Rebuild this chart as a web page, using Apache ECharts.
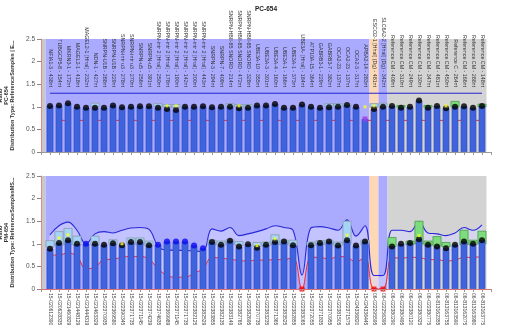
<!DOCTYPE html>
<html><head><meta charset="utf-8">
<script src="https://cdn.jsdelivr.net/npm/echarts@6/dist/echarts.min.js"></script>
<style>html,body{margin:0;padding:0;background:#fff}#c{width:528px;height:326px}</style>
</head><body><div id="c"></div>
<script>
// ---------- data ----------
const markers = [
 'NFIA1-3 - 438nt','TUBGCP5-8 - 154nt','MKRN3-1 - 172nt','MAGEL2-1 - 418nt','MAGEL2-1 [HhaI] - 232nt',
 'NDN-1 - 427nt','SNRPN-U1B - 288nt','SNRPN-U1B - 229nt','SNRPN-intr u3 - 278nt','SNRPN-intr u3 - 270nt',
 'SNRPN-u5 - 256nt','SNRPN-u5 - 391nt','SNRPN-intr 2 [HhaI] - 250nt','SNRPN-intr 2 [HhaI] - 178nt','SNRPN-intr 2 [HhaI] - 190nt',
 'SNRPN-intr 2 [HhaI] - 142nt','SNRPN-intr 2 [HhaI] - 200nt','SNRPN-intr 2 [HhaI] - 443nt','SNRPN-3 - 294nt','SNRPN-7 - 409nt',
 'SNRPN-HBII-85 SNORD - 214nt','SNRPN-HBII-85 SNORD - 472nt','SNRPN-HBII-85 SNORD - 328nt','UBE3A-10 - 355nt','UBE3A-3 - 301nt',
 'UBE3A-4 - 160nt','UBE3A-1 - 166nt','UBE3A-1 - 373nt','UBE3A- [HhaI] - 184nt','ATP10A-15 - 364nt',
 'GABRB3-1 - 229nt','GABRB3-7 - 382nt','OCA2-23 - 137nt','OCA2-23 - 137nt','OCA2-3 - 317nt',
 'APBA2-14 - 283nt','ESCO2-1 [HhaI] (Dg) - 481nt','SLC6A2-2 [HhaI] (Dg) - 342nt','Reference CM - 409nt','Reference CM - 310nt',
 'Reference CM - 249nt','Reference CM - 130nt','Reference CM - 347nt','Reference CM - 481nt','Reference CM - 450nt',
 'Reference C - 264nt','Reference CM - 166nt','Reference CM - 288nt','Reference CM - 148nt'
];
const samples = [
 '15-020612390','15-020628335','15-021460829','15-021448129','15-021444319','15-021463329','15-022370935','15-022369580','15-022390345','15-022371735',
 '15-022371145','15-022374239','15-022374635','15-022369989','15-022371145','15-022371735','15-022382125','15-022382529','15-022383855','15-022382135',
 '15-022383149','15-022382765','15-022382695','15-022370735','15-022383235','15-022371365','15-022383525','15-022382855','15-022383065','15-022372055',
 '15-022371835','15-022370955','15-022381505','15-022371575','15-024336820','15-024336445','06-022295595','06-022256395','06-022380290','06-022380495',
 '06-022380120','06-022380325','06-022380775','06-813162355','06-813163755','06-813163590','06-813162075','06-813163980','06-813163775'
];
const regionType = ['s','s','s','s','s','s','s','s','s','s','s','s','s','s','s','s','s','s','s','s',
 's','s','s','s','s','s','s','s','s','s','s','s','s','s','s','s','d','s','r','r','r','r','r','r','r','r','r','r','r'];

// top panel (PC-654)
const topRatio = [1.02,1.03,1.08,1.00,0.98,0.98,0.98,1.03,0.99,1.00,1.01,1.01,0.98,0.95,0.93,1.00,1.00,1.01,0.99,1.00,
 1.00,0.97,0.98,1.03,1.03,1.06,0.98,0.98,1.05,1.00,0.98,0.99,1.00,1.04,1.00,0.73,0.95,1.00,1.02,0.98,1.00,1.14,0.98,1.02,0.97,1.00,1.01,0.98,1.02];
const topDotType = ['k','k','k','k','k','k','k','k','k','k','k','k','k','k','k','k','k','k','k','k',
 'k','k','k','k','k','k','k','k','k','k','k','k','k','k','k','p','k','k','k','k','k','k','k','k','k','k','k','k','k'];
const topBoxLow  = [null,null,null,null,null,1.00,null,null,null,null,null,null,1.00,0.99,0.99,null,null,null,null,null,
 1.00,0.99,0.99,null,null,null,null,null,null,null,null,1.00,1.00,1.00,null,null,0.99,1.00,null,0.99,null,null,0.99,null,null,1.00,null,null,1.00];
const topBoxHigh = [null,null,null,null,null,1.08,null,null,null,null,null,null,1.07,1.05,1.05,null,null,null,null,null,
 1.07,1.05,1.05,null,null,null,null,null,null,null,null,1.07,1.07,1.06,null,null,1.07,1.08,null,1.03,null,null,1.03,null,null,1.12,null,null,1.06];
const topYellow = [null,null,null,null,null,null,null,null,null,null,null,null,null,1.02,1.02,null,null,null,null,null,
 null,1.02,null,null,null,null,null,null,null,null,null,null,null,null,null,1.00,1.02,null,null,null,null,null,null,null,1.02,null,null,null,null];
const topUpperLimit = 1.3;
const topLowerLimit = 0.7;

// bottom panel (PM-654)
const botRatio = [0.89,1.02,1.08,1.00,1.00,1.00,0.98,1.01,0.97,1.04,1.04,0.97,0.98,1.05,1.05,1.05,0.96,0.90,1.04,0.98,
 1.07,0.94,0.99,0.91,0.98,1.04,1.05,0.97,0,0.97,1.02,1.05,0.96,1.08,0.96,1.05,0,0,0.94,1.00,1.02,1.10,0.98,0.94,0.90,0.98,1.05,1.00,1.08];
const botDotType = ['k','k','k','k','b','k','k','k','k','k','k','k','b','b','b','b','b','b','k','k',
 'k','k','k','k','k','k','k','k','x','k','k','k','k','k','k','k','x','x','k','k','k','k','k','k','k','k','k','k','k'];
const botBoxLow  = [0.93,0.97,0.98,0.97,null,0.97,null,0.98,null,0.98,0.98,0.95,null,null,null,null,null,null,0.98,0.97,
 0.99,0.96,null,0.93,0.96,0.98,0.98,0.96,null,0.96,0.98,0.98,0.95,1.00,null,0.98,null,null,0.94,null,0.98,1.00,0.97,0.95,0.93,null,0.98,0.98,1.00];
const botBoxHigh = [1.07,1.27,1.34,1.17,null,1.17,null,1.09,null,1.13,1.13,1.06,null,null,null,null,null,null,1.08,1.06,
 1.09,1.05,null,1.03,1.04,1.20,1.08,1.08,null,1.04,1.07,1.08,1.04,1.50,null,1.08,null,null,1.14,null,1.06,1.50,1.06,1.16,1.03,null,1.30,1.08,1.28];
const botYellow = [null,1.13,1.20,null,null,null,null,null,1.00,null,null,null,null,null,null,null,null,null,null,null,
 null,null,null,0.96,null,1.11,null,null,null,null,null,null,null,1.19,null,null,null,null,null,null,null,1.18,null,null,null,null,null,null,null];
const botUpper = [1.20,1.40,1.48,1.30,1.00,1.22,1.27,1.24,1.30,1.35,1.36,1.32,0.95,0.86,0.86,0.85,0.84,0.83,1.33,1.28,
 1.36,1.18,1.22,1.27,1.33,1.40,1.36,1.30,0.31,1.35,1.38,1.35,1.30,1.53,1.17,1.40,0.30,0.30,1.30,1.30,1.27,1.49,1.24,1.22,1.18,1.24,1.36,1.30,1.42];
const botLower = [0.75,0.75,0.80,0.72,0.45,0.48,0.65,0.66,0.70,0.72,0.72,0.66,0.45,0.30,0.26,0.26,0.35,0.45,0.70,0.68,
 0.66,0.63,0.62,0.64,0.64,0.65,0.65,0.70,0.00,0.70,0.70,0.66,0.72,0.70,0.60,0.70,0.00,0.00,0.70,0.68,0.70,0.70,0.65,0.65,0.62,0.64,0.70,0.70,0.72];

// ---------- styles ----------
const regionColor = {s:'#aaaaff', d:'#fcd8b6', r:'#d3d3d3'};
const boxColor = {s:'#a6d4f6', d:'#a6d4f6', r:'#7ddc7d'};
const boxBorder = {s:'#8a9aaa', d:'#8a9aaa', r:'#4a9a4a'};
const FONT = 'Liberation Sans, Arial, sans-serif';

function bgAreas(){
  const out = [[{xAxis:-1, itemStyle:{color:'#c8c8c8'}},{xAxis:-0.5}]];
  let s = 0;
  for (let i=1;i<=regionType.length;i++){
    if (i===regionType.length || regionType[i]!==regionType[s]){
      out.push([{xAxis:s-0.5, itemStyle:{color:regionColor[regionType[s]]}},{xAxis:i-0.5}]);
      s = i;
    }
  }
  return out;
}
function boxData(lo,hi){
  const d=[];
  lo.forEach((v,i)=>{ if(v!=null) d.push([i,v,hi[i]]); });
  return d;
}
function boxRender(params, api){
  const x=api.value(0), lo=api.value(1), hi=api.value(2);
  const t=regionType[x];
  const a=api.coord([x,hi]), b=api.coord([x,lo]);
  const w=api.size([1,0])[0]*0.9;
  return {type:'rect', shape:{x:a[0]-w/2, y:a[1], width:w, height:b[1]-a[1]},
    style:{fill:boxColor[t], stroke:boxBorder[t], lineWidth:0.8}};
}
function bandRender(params, api){
  const up = botUpper.map((v,i)=>api.coord([i,v]));
  const lo = botLower.map((v,i)=>api.coord([i,v])).reverse();
  return {type:'polygon', shape:{points:up.concat(lo), smooth:0.35},
    style:{fill:'rgba(215,215,255,0.55)'}};
}
function pts(arr, filt){ const d=[]; arr.forEach((v,i)=>{ if(v!=null && (!filt||filt(i))) d.push([i,v]); }); return d; }

const yAxisBase = (gi, name) => ({
  gridIndex:gi, type:'value', min:0, max:2.5, interval:0.5, z:20,
  name:name, nameLocation:'middle', nameGap:20,
  nameTextStyle:{fontSize:5.5, fontWeight:'bold', color:'#333', lineHeight:6, fontFamily:FONT},
  axisLine:{show:true, onZero:false, lineStyle:{color:'#e08a8a', width:1}},
  axisTick:{show:true, length:4, lineStyle:{color:'#888'}},
  axisLabel:{fontSize:6.5, color:'#555', margin:6, fontFamily:FONT},
  splitLine:{show:false}
});

const option = {
  animation:false,
  backgroundColor:'#ffffff',
  title:{text:'PC-654', left:255, top:6, padding:0, textStyle:{fontSize:6.5, fontWeight:'bold', color:'#222', fontFamily:FONT}},
  grid:[
    {left:41, right:37, top:39, height:113, containLabel:false, outerBoundsMode:'none'},
    {left:41, right:37, top:176, height:113, containLabel:false, outerBoundsMode:'none'}
  ],
  xAxis:[
    {gridIndex:0, type:'value', min:-1, max:49, interval:1, position:'bottom', z:20,
     axisLine:{show:true, onZero:false, lineStyle:{color:'#999'}}, axisTick:{show:true, length:3, lineStyle:{color:'#999'}},
     axisLabel:{show:false}, splitLine:{show:false}},
    {gridIndex:0, type:'value', min:-1, max:49, interval:1, position:'top', offset:-50, z:20,
     axisLine:{show:false, onZero:false}, axisTick:{show:false}, splitLine:{show:false},
     axisLabel:{show:true, rotate:90, margin:2, fontSize:5.3, color:'#333', fontFamily:FONT,
       formatter:v=>markers[v]||''}},
    {gridIndex:1, type:'value', min:-1, max:49, interval:1, position:'bottom', z:20,
     axisLine:{show:true, onZero:false, lineStyle:{color:'#e07070'}}, axisTick:{show:true, length:3, lineStyle:{color:'#999'}},
     splitLine:{show:false},
     axisLabel:{show:true, rotate:-90, margin:4, fontSize:5, color:'#444', fontFamily:FONT,
       formatter:v=>samples[v]||''}}
  ],
  yAxis:[
    yAxisBase(0,'Ratio\nPC-654\nDistribution Type: ReferenceSamples | E...'),
    yAxisBase(1,'Ratio\nPM-654\nDistribution Type: ReferenceSamplesMS...')
  ],
  series:[
    // ----- top panel -----
    {type:'scatter', xAxisIndex:0, yAxisIndex:0, data:[], z:0, silent:true,
     markArea:{silent:true, data:bgAreas()}},
    {type:'line', xAxisIndex:0, yAxisIndex:0, data:markers.map((m,i)=>[i,topLowerLimit]), showSymbol:false, z:1,
     lineStyle:{color:'#ee3030', width:1, type:[3,3]}},
    {type:'custom', xAxisIndex:0, yAxisIndex:0, data:boxData(topBoxLow,topBoxHigh), renderItem:boxRender, z:2},
    {type:'bar', xAxisIndex:0, yAxisIndex:0, data:topRatio.map((v,i)=>[i,v]), barWidth:6.6, z:3,
     itemStyle:{color:'#3f63dd', borderColor:'#2b45b5', borderWidth:0.5}},
    {type:'line', xAxisIndex:0, yAxisIndex:0, data:markers.map((m,i)=>[i,topUpperLimit]), showSymbol:false, z:4,
     lineStyle:{color:'#2424cc', width:1}},
    {type:'scatter', xAxisIndex:0, yAxisIndex:0, data:pts(topRatio,i=>topDotType[i]==='k'), symbolSize:6, z:5,
     itemStyle:{color:'#000'}},
    {type:'scatter', xAxisIndex:0, yAxisIndex:0, data:pts(topRatio,i=>topDotType[i]==='p'), symbol:'rect', symbolSize:5, z:5,
     itemStyle:{color:'#a03be8'}},
    {type:'scatter', xAxisIndex:0, yAxisIndex:0, data:pts(topYellow), symbol:'rect', symbolSize:3, z:6,
     itemStyle:{color:'#ffff20'}},
    // ----- bottom panel -----
    {type:'scatter', xAxisIndex:2, yAxisIndex:1, data:[], z:0, silent:true,
     markArea:{silent:true, data:bgAreas()}},
    {type:'custom', xAxisIndex:2, yAxisIndex:1, data:[[0,0]], renderItem:bandRender, z:1, silent:true},
    {type:'line', xAxisIndex:2, yAxisIndex:1, data:botLower.map((v,i)=>[i,v]), smooth:0.4, showSymbol:false, z:2,
     lineStyle:{color:'#ff2020', width:1}},
    {type:'line', xAxisIndex:2, yAxisIndex:1, data:botUpper.map((v,i)=>[i,v]), smooth:0.4, showSymbol:false, z:2,
     lineStyle:{color:'#2828d8', width:1.1}},
    {type:'custom', xAxisIndex:2, yAxisIndex:1, data:boxData(botBoxLow,botBoxHigh), renderItem:boxRender, z:3},
    {type:'bar', xAxisIndex:2, yAxisIndex:1, data:botRatio.map((v,i)=>[i,v]), barWidth:6.6, z:4,
     itemStyle:{color:'#3f63dd', borderColor:'#2b45b5', borderWidth:0.5}},
    {type:'scatter', xAxisIndex:2, yAxisIndex:1, data:pts(botRatio,i=>botDotType[i]==='k'), symbolSize:6, z:5,
     itemStyle:{color:'#000'}},
    {type:'scatter', xAxisIndex:2, yAxisIndex:1, data:pts(botRatio,i=>botDotType[i]==='b'), symbolSize:6, z:5,
     itemStyle:{color:'#0a0af0'}},
    {type:'scatter', xAxisIndex:2, yAxisIndex:1, data:pts(botRatio,i=>botDotType[i]==='x'), symbol:'rect', symbolSize:5, z:6,
     itemStyle:{color:'#ff0000'}},
    {type:'scatter', xAxisIndex:2, yAxisIndex:1, data:pts(botYellow), symbol:'rect', symbolSize:3, z:6,
     itemStyle:{color:'#ffff20'}}
  ]
};
const chart = echarts.init(document.getElementById('c'));
chart.setOption(option);
</script></body></html>
